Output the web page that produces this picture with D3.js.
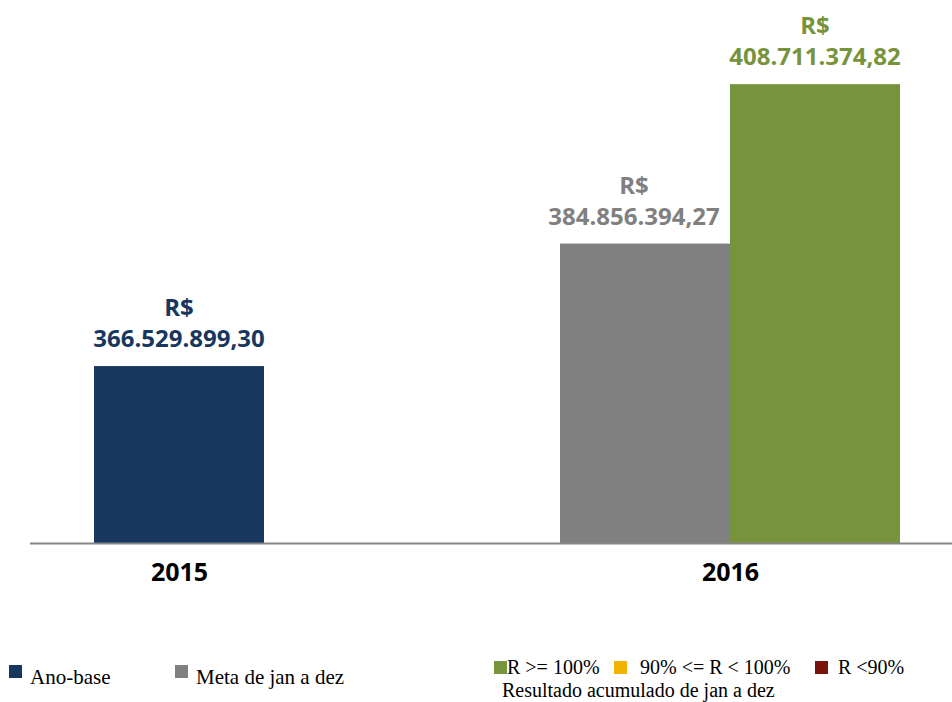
<!DOCTYPE html>
<html>
<head>
<meta charset="utf-8">
<script src="https://cdn.jsdelivr.net/npm/d3@7"></script>
<style>
  body { margin: 0; background: #fff; }
  svg { display: block; }
</style>
</head>
<body>
<div id="chart"></div>
<script>
// data
var years = ["2015", "2016"];
var seriesNames = ["Ano-base", "Meta de jan a dez", "Resultado acumulado de jan a dez"];
var anoBase = [366529899.30, null];
var meta = [null, 384856394.27];
var resultado = [null, 408711374.82];
var valueLabels = [
  ["366.529.899,30", null, null],
  [null, "384.856.394,27", "408.711.374,82"]
];
var resultLegend = ["R >= 100%", "90% <= R < 100%", "R <90%"];

var width = 952, height = 702;
var baseline = 543;
var barWidth = 170;

var colors = ["#17375e", "#808080", "#77933c"];
var resultColors = ["#77933c", "#f0b400", "#7a130d"];

var svg = d3.select("#chart").append("svg")
  .attr("width", width)
  .attr("height", height);

/* Scales */
var x = d3.scalePoint().domain(years).range([179, 730]);
var y = d3.scaleLinear().domain([340060000, 421300000]).range([baseline, 0]);

// rows: one per year, with the series present
var rows = years.map(function(yr, i) {
  var vals = [anoBase[i], meta[i], resultado[i]];
  var bars = [];
  vals.forEach(function(v, s) {
    if (v != null) bars.push({ year: yr, series: s, value: v, label: valueLabels[i][s] });
  });
  return { year: yr, bars: bars };
});

var groups = svg.append("g").selectAll("g")
  .data(rows)
  .enter()
  .append("g")
  .attr("transform", function(d) { return "translate(" + x(d.year) + ",0)"; });

groups.each(function(row) {
  var sub = d3.scaleBand()
    .domain(row.bars.map(function(b) { return b.series; }))
    .range([-row.bars.length * barWidth / 2, row.bars.length * barWidth / 2]);

  var g = d3.select(this);

  g.selectAll("rect")
    .data(row.bars)
    .enter()
    .append("rect")
    .attr("x", function(b) { return sub(b.series); })
    .attr("y", function(b) { return y(b.value); })
    .attr("width", sub.bandwidth())
    .attr("height", function(b) { return baseline - y(b.value); })
    .attr("fill", function(b) { return colors[b.series]; });

  var labels = g.selectAll("text.val")
    .data(row.bars)
    .enter()
    .append("text")
    .attr("class", "val")
    .attr("text-anchor", "middle")
    .attr("font-family", "'Open Sans', sans-serif")
    .attr("font-weight", "bold")
    .attr("font-size", "24px")
    .attr("fill", function(b) { return colors[b.series]; });

  labels.append("tspan")
    .attr("x", function(b) { return sub(b.series) + sub.bandwidth() / 2 - (b.series === 1 ? 11 : 0); })
    .attr("y", function(b) { return y(b.value) - 50; })
    .text("R$");
  labels.append("tspan")
    .attr("x", function(b) { return sub(b.series) + sub.bandwidth() / 2 - (b.series === 1 ? 11 : 0); })
    .attr("y", function(b) { return y(b.value) - 19; })
    .text(function(b) { return b.label; });
});

/* Axis */
var xAxis = d3.axisBottom(x).tickSize(0).tickPadding(20);
var axisG = svg.append("g")
  .attr("transform", "translate(0," + baseline + ")")
  .call(xAxis);
axisG.select(".domain").remove();
axisG.append("line")
  .attr("x1", 30).attr("x2", width)
  .attr("y1", 0.5).attr("y2", 0.5)
  .attr("stroke", "#868686")
  .attr("stroke-width", 2);
axisG.selectAll(".tick text")
  .attr("font-family", "'Open Sans', sans-serif")
  .attr("font-weight", "bold")
  .attr("font-size", "25px")
  .attr("fill", "#000");

/* Legend */
var legend = svg.append("g")
  .attr("font-family", "'Liberation Serif', 'Times New Roman', serif")
  .attr("font-size", "21px")
  .attr("fill", "#000");

var leg1 = [{ x: 9, text: seriesNames[0], color: colors[0] }, { x: 175, text: seriesNames[1], color: colors[1] }];
leg1.forEach(function(l) {
  legend.append("rect").attr("x", l.x).attr("y", 665).attr("width", 13).attr("height", 13).attr("fill", l.color);
  legend.append("text").attr("x", l.x + 21).attr("y", 684).text(l.text);
});

var leg2x = [494, 614, 815];
var leg2tx = [507, 640, 838];
resultLegend.forEach(function(t, i) {
  legend.append("rect").attr("x", leg2x[i]).attr("y", 661).attr("width", 13).attr("height", 13).attr("fill", resultColors[i]);
  legend.append("text").attr("x", leg2tx[i]).attr("y", 674).attr("font-size", "20px").text(t);
});
legend.append("text").attr("x", 502).attr("y", 697).attr("font-size", "20px").text(seriesNames[2]);
</script>
</body>
</html>
